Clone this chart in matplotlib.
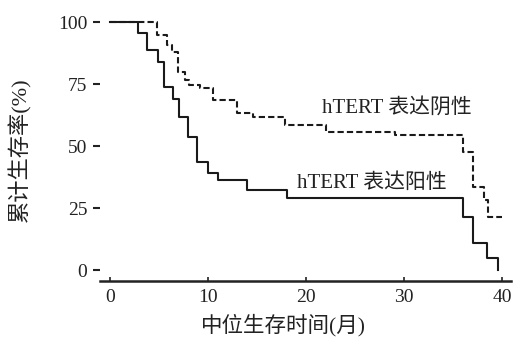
import matplotlib
matplotlib.use("Agg")
import matplotlib.pyplot as plt

# Data (months, cumulative survival %)
pos_t = [0, 2.86, 3.78, 4.9, 5.5, 6.4, 7.0, 8.0, 8.9, 10.0, 11.0, 14.0, 18.1, 36.0, 37.0, 38.5, 39.6]
pos_v = [100, 95.6, 88.7, 83.9, 73.8, 69.0, 61.7, 53.6, 43.5, 39.1, 36.3, 32.3, 29.0, 21.4, 10.9, 4.8, 0]
neg_t = [0, 4.8, 5.8, 6.3, 6.9, 7.65, 8.1, 9.2, 10.5, 13.0, 14.6, 17.9, 22.0, 29.1, 36.0, 37.0, 38.1, 38.6]
neg_v = [100, 94.8, 90.7, 87.9, 79.8, 76.6, 74.6, 73.4, 68.5, 63.3, 61.7, 58.5, 55.6, 54.4, 47.6, 33.5, 28.2, 21.4]
neg_end = 40.0

xticks = [0, 10, 20, 30, 40]
yticks = [0, 25, 50, 75, 100]
label_neg = "hTERT 表达阴性"
label_pos = "hTERT 表达阳性"
xlabel = "中位生存时间(月)"
ylabel = "累计生存率(%)"

fam = ['Liberation Serif', 'Noto Sans CJK SC', 'DejaVu Sans']
plt.rcParams['font.family'] = fam

fig = plt.figure(figsize=(5.16, 3.44), dpi=100)
ax = fig.add_axes([100/516, (344-281)/344, 411/516, (281-9.6)/344])

ax.step(pos_t, pos_v, where='post', color='#1a1a1a', lw=1.5)
ax.step(neg_t + [neg_end], neg_v + [neg_v[-1]], where='post', color='#1a1a1a', lw=1.5,
        linestyle=(0, (3, 1.5)))

ax.set_xlim(-1.02, 40.9)
ax.set_ylim(-4.4, 105)
for s in ['top', 'right', 'left']:
    ax.spines[s].set_visible(False)
ax.spines['bottom'].set_linewidth(1.8)
ax.spines['bottom'].set_color('#222222')

ax.set_xticks(xticks)
ax.set_yticks(yticks)
ax.tick_params(axis='x', direction='in', length=3, width=1.2, labelsize=14, pad=6, colors='#222222')
ax.tick_params(axis='y', direction='out', length=5, width=1.5, labelsize=14, pad=4, colors='#222222')

ax.text(21.6, 65.3, label_neg, fontsize=15, va='center', ha='left', color='#222222')
ax.text(19.1, 35.0, label_pos, fontsize=15, va='center', ha='left', color='#222222')

fig.text(283/516, 1-325/344, xlabel, fontsize=15.5, ha='center', va='center', color='#222222')
fig.text(20/516, 1-150/344, ylabel, fontsize=16, ha='center', va='center', rotation=90, color='#222222')

fig.savefig('out.png', dpi=100)
